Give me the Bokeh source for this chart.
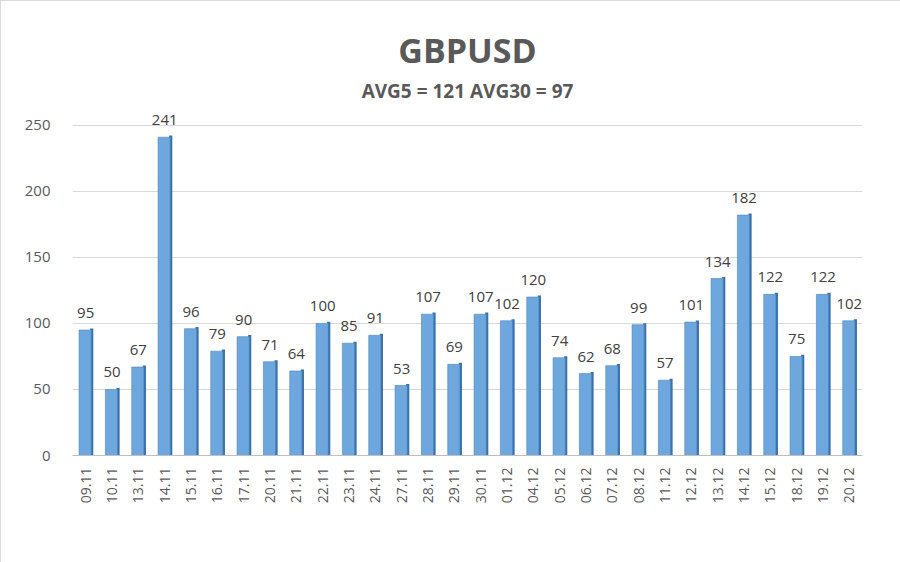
import math
from bokeh.plotting import figure
from bokeh.models import ColumnDataSource, Title, FactorRange
from bokeh.transform import dodge
from bokeh.core.properties import value
from bokeh.embed import file_html
from bokeh.resources import INLINE

dates = ["09.11", "10.11", "13.11", "14.11", "15.11", "16.11", "17.11", "20.11", "21.11", "22.11",
         "23.11", "24.11", "27.11", "28.11", "29.11", "30.11", "01.12", "04.12", "05.12", "06.12",
         "07.12", "08.12", "11.12", "12.12", "13.12", "14.12", "15.12", "18.12", "19.12", "20.12"]
values = [95, 50, 67, 241, 96, 79, 90, 71, 64, 100,
          85, 91, 53, 107, 69, 107, 102, 120, 74, 62,
          68, 99, 57, 101, 134, 182, 122, 75, 122, 102]
y_ticks = [0, 50, 100, 150, 200, 250]
title_text = "GBPUSD"
subtitle_text = "AVG5 = 121 AVG30 = 97"

FONT = "Open Sans"
GREY = "#595959"

src = ColumnDataSource(dict(x=dates, top=values, label=[str(v) for v in values],
                            top_side=[v + 1.2 for v in values]))

p = figure(width=900, height=562, x_range=FactorRange(*dates), y_range=(0, 265),
           output_backend="svg", toolbar_location=None, title=None,
           min_border_left=72, min_border_right=38, min_border_bottom=107, min_border_top=105)
p.styles = {"outline": "1px solid #cfcfcf", "outline-offset": "-1px"}

p.add_layout(Title(text=subtitle_text, align="center", text_font=FONT, text_font_size="19px",
                   text_font_style="bold", text_color=GREY, offset=-7, standoff=4), "above")
p.add_layout(Title(text=title_text, align="center", text_font=FONT, text_font_size="34px",
                   text_font_style="bold", text_color=GREY, offset=-7, standoff=2), "above")

# side face (3D look)
p.vbar(x=dodge("x", 0.23, range=p.x_range), top="top_side", width=0.12, bottom=0,
       source=src, fill_color="#3a72aa", line_color=None)
# front face
p.vbar(x=dodge("x", -0.02, range=p.x_range), top="top", width=0.46, bottom=0,
       source=src, fill_color="#6ea7dd", line_color="#4a84bd", line_width=0.6)

p.text(x=dodge("x", 0.0, range=p.x_range), y="top", text="label", source=src,
       text_align="center", text_baseline="bottom", y_offset=-12,
       text_font=value(FONT), text_font_size="15px", text_color="#404040")

p.yaxis.ticker = y_ticks
p.yaxis.axis_line_color = None
p.yaxis.major_tick_line_color = None
p.yaxis.minor_tick_line_color = None
p.yaxis.major_label_text_font = FONT
p.yaxis.major_label_text_font_size = "15px"
p.yaxis.major_label_text_color = GREY
p.yaxis.major_label_standoff = 16

p.xaxis.axis_line_color = "#bfbfbf"
p.xaxis.major_tick_line_color = None
p.xaxis.minor_tick_line_color = None
p.xaxis.major_label_orientation = math.pi / 2
p.xaxis.major_label_text_font = FONT
p.xaxis.major_label_text_font_size = "14px"
p.xaxis.major_label_text_color = GREY
p.xaxis.major_label_standoff = 6

p.xgrid.grid_line_color = None
p.ygrid.grid_line_color = "#d9d9d9"
p.ygrid.ticker = y_ticks
p.outline_line_color = None
p.background_fill_color = "white"
p.border_fill_color = "white"

open("out.html", "w").write(file_html(p, INLINE))
